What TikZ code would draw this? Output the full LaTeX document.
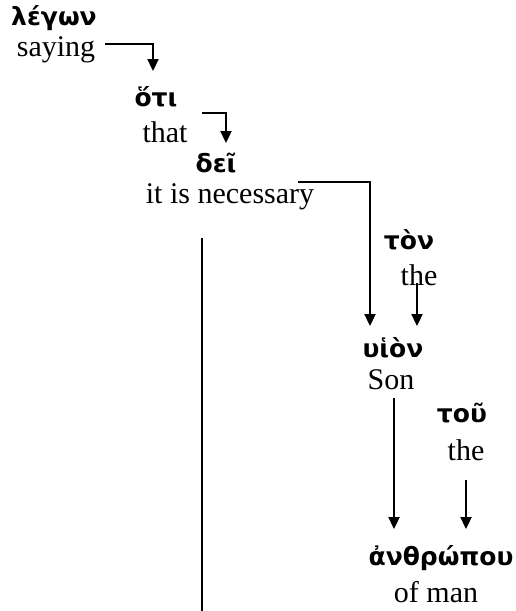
\documentclass[tikz,border=0pt]{standalone}
\usepackage{fontspec}
\setmainfont{Liberation Serif}
\newfontfamily\grk{DejaVu Sans}
\usetikzlibrary{arrows.meta}
\begin{document}
\begin{tikzpicture}[x=1pt,y=-1pt,
  gr/.style={inner sep=0pt,font=\fontsize{25}{30}\selectfont\grk\bfseries},
  en/.style={inner sep=0pt,font=\fontsize{30}{36}\selectfont},
  conn/.style={line width=2.3pt,-{Triangle[width=11pt,length=12pt]}},
  bar/.style={line width=2.3pt}]
\useasboundingbox (0,0) rectangle (516,611);
\node[gr] (legon) at (54,18) {λέγων};
\node[en] (saying) at (56,50) {saying};
\node[gr] (oti) at (156,97) {ὅτι};
\node[en] (that) at (165,132) {that};
\node[gr] (dei) at (216,163) {δεῖ};
\node[en] (nec) at (230,197) {it is necessary};
\node[gr] (ton) at (409,240) {τὸν};
\node[en] (the1) at (419,275) {the};
\node[gr] (huion) at (393,348) {υἱὸν};
\node[en] (son) at (391,380) {Son};
\node[gr] (tou) at (462,413) {τοῦ};
\node[en] (the2) at (466,450) {the};
\node[gr] (anth) at (441,558) {ἀνθρώπου};
\node[en] (man) at (436,592) {of man};
% connector ends
\coordinate (s1) at (105,44);
\coordinate (t1) at (153,71);
\coordinate (s2) at (202,113);
\coordinate (t2) at (226,143);
\coordinate (s3) at (298,182);
\coordinate (t3) at (370,326);
\coordinate (s4) at (417,283);
\coordinate (t4) at (417,326);
\coordinate (s5) at (394,398);
\coordinate (t5) at (394,529);
\coordinate (s6) at (466,480);
\coordinate (t6) at (466,529);
\coordinate (e1) at (202,238);
\coordinate (e2) at (202,611);
\draw[conn] (s1) -| (t1);
\draw[conn] (s2) -| (t2);
\draw[conn] (s3) -| (t3);
\draw[conn] (s4) -- (t4);
\draw[conn] (s5) -- (t5);
\draw[conn] (s6) -- (t6);
\draw[bar] (e1) -- (e2);
\end{tikzpicture}
\end{document}
